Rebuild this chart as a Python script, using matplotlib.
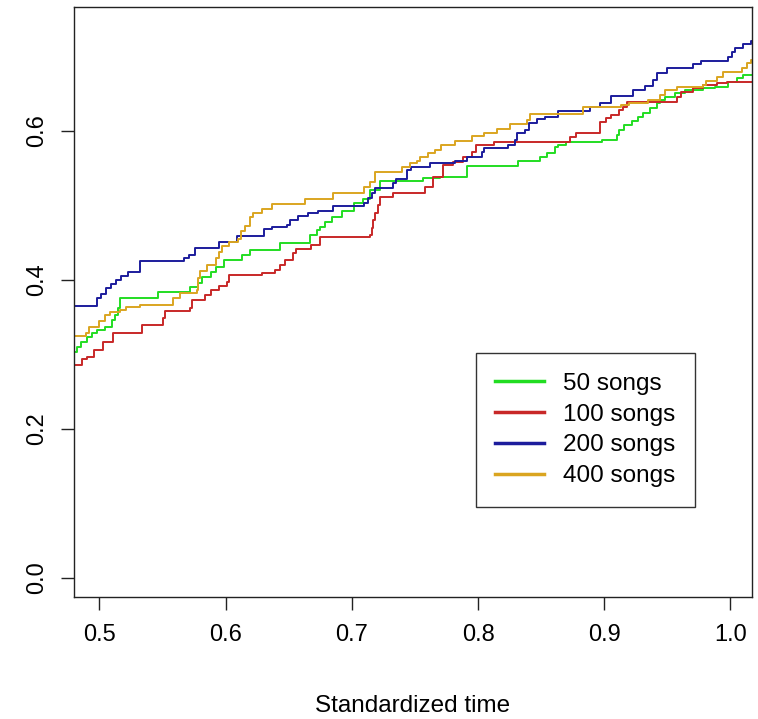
import matplotlib
matplotlib.use('Agg')
import matplotlib.pyplot as plt

plt.rcParams['font.family'] = ['Liberation Sans', 'DejaVu Sans']

# step curves
t_50 = [0.480, 0.482, 0.485, 0.490, 0.494, 0.498, 0.504, 0.510, 0.512, 0.515, 0.516, 0.546, 0.572, 0.578, 0.581,
        0.588, 0.592, 0.599, 0.613, 0.619, 0.643, 0.667, 0.672, 0.675, 0.679, 0.684, 0.692, 0.702, 0.709, 0.714,
        0.722, 0.756, 0.770, 0.791, 0.832, 0.849, 0.855, 0.861, 0.863, 0.870, 0.898, 0.910, 0.912, 0.916, 0.922,
        0.927, 0.931, 0.936, 0.942, 0.944, 0.948, 0.956, 0.964, 0.978, 0.988, 0.998, 1.005, 1.010, 1.02]
v_50 = [0.303, 0.309, 0.316, 0.323, 0.328, 0.332, 0.336, 0.346, 0.352, 0.362, 0.375, 0.383, 0.390, 0.395, 0.403,
        0.410, 0.417, 0.426, 0.433, 0.440, 0.449, 0.460, 0.466, 0.471, 0.477, 0.484, 0.492, 0.503, 0.508, 0.520,
        0.532, 0.536, 0.538, 0.552, 0.559, 0.565, 0.570, 0.578, 0.581, 0.585, 0.587, 0.594, 0.601, 0.608, 0.613,
        0.618, 0.624, 0.630, 0.637, 0.641, 0.645, 0.651, 0.655, 0.657, 0.659, 0.665, 0.671, 0.675, 0.675]

t_100 = [0.480, 0.486, 0.490, 0.496, 0.503, 0.511, 0.534, 0.550, 0.552, 0.572, 0.573, 0.584, 0.588, 0.595, 0.601,
         0.603, 0.629, 0.639, 0.643, 0.647, 0.653, 0.656, 0.668, 0.675, 0.714, 0.716, 0.717, 0.718, 0.721, 0.722,
         0.733, 0.758, 0.764, 0.772, 0.780, 0.788, 0.795, 0.798, 0.813, 0.873, 0.878, 0.897, 0.901, 0.905, 0.912,
         0.915, 0.918, 0.958, 0.961, 0.970, 0.978, 0.989, 0.997, 1.02]
v_100 = [0.285, 0.293, 0.296, 0.305, 0.316, 0.328, 0.339, 0.348, 0.358, 0.362, 0.372, 0.379, 0.386, 0.391, 0.397,
         0.406, 0.409, 0.413, 0.419, 0.426, 0.436, 0.441, 0.446, 0.457, 0.460, 0.469, 0.480, 0.489, 0.500, 0.511,
         0.516, 0.524, 0.538, 0.554, 0.558, 0.565, 0.571, 0.581, 0.585, 0.591, 0.597, 0.612, 0.617, 0.621, 0.628,
         0.632, 0.638, 0.645, 0.652, 0.657, 0.661, 0.664, 0.665, 0.665]

t_200 = [0.480, 0.498, 0.501, 0.505, 0.509, 0.513, 0.517, 0.523, 0.532, 0.567, 0.571, 0.576, 0.595, 0.609, 0.630,
         0.637, 0.649, 0.651, 0.657, 0.665, 0.673, 0.685, 0.710, 0.713, 0.716, 0.718, 0.733, 0.735, 0.744, 0.747,
         0.762, 0.782, 0.791, 0.803, 0.805, 0.824, 0.829, 0.831, 0.837, 0.840, 0.847, 0.853, 0.863, 0.889, 0.897,
         0.905, 0.923, 0.932, 0.939, 0.942, 0.950, 0.970, 0.977, 0.998, 1.001, 1.004, 1.010, 1.016, 1.02]
v_200 = [0.364, 0.375, 0.381, 0.389, 0.394, 0.399, 0.405, 0.410, 0.425, 0.429, 0.433, 0.442, 0.450, 0.458, 0.468,
         0.471, 0.473, 0.480, 0.485, 0.489, 0.492, 0.499, 0.503, 0.509, 0.516, 0.523, 0.530, 0.535, 0.547, 0.551,
         0.556, 0.559, 0.565, 0.571, 0.577, 0.581, 0.587, 0.597, 0.601, 0.610, 0.616, 0.618, 0.626, 0.632, 0.637,
         0.646, 0.655, 0.660, 0.668, 0.677, 0.684, 0.689, 0.694, 0.699, 0.706, 0.711, 0.716, 0.720, 0.720]

t_400 = [0.480, 0.489, 0.492, 0.500, 0.504, 0.508, 0.516, 0.521, 0.532, 0.558, 0.564, 0.577, 0.578, 0.580, 0.585,
         0.592, 0.595, 0.597, 0.603, 0.610, 0.612, 0.615, 0.619, 0.622, 0.629, 0.637, 0.663, 0.685, 0.710, 0.714,
         0.718, 0.740, 0.746, 0.752, 0.754, 0.760, 0.766, 0.771, 0.782, 0.795, 0.805, 0.815, 0.825, 0.839, 0.841,
         0.883, 0.913, 0.920, 0.935, 0.944, 0.948, 0.958, 0.978, 0.981, 0.989, 0.994, 1.009, 1.013, 1.016, 1.02]
v_400 = [0.324, 0.329, 0.336, 0.344, 0.352, 0.356, 0.359, 0.363, 0.366, 0.375, 0.382, 0.386, 0.402, 0.411, 0.419,
         0.429, 0.437, 0.445, 0.450, 0.454, 0.465, 0.472, 0.484, 0.489, 0.495, 0.501, 0.508, 0.516, 0.524, 0.531,
         0.544, 0.551, 0.556, 0.559, 0.565, 0.570, 0.574, 0.581, 0.586, 0.593, 0.597, 0.602, 0.609, 0.614, 0.622,
         0.632, 0.634, 0.637, 0.641, 0.648, 0.655, 0.659, 0.661, 0.667, 0.672, 0.679, 0.684, 0.691, 0.695, 0.695]

labels = ['50 songs', '100 songs', '200 songs', '400 songs']
colors = ['#22dd22', '#c82828', '#1c1c9c', '#daa520']
xticks = [0.5, 0.6, 0.7, 0.8, 0.9, 1.0]
yticks = [0.0, 0.2, 0.4, 0.6]

fig = plt.figure(figsize=(7.58, 7.19), dpi=100)
ax = fig.add_axes([0.0976, 0.1697, 0.8945, 0.8206])

series = [(t_50, v_50), (t_100, v_100), (t_200, v_200), (t_400, v_400)]
for (t, v), lab, col in zip(series, labels, colors):
    ax.step(t, v, where='post', color=col, lw=1.4, label=lab)

ax.set_xlim(0.4798, 1.0171)
ax.set_ylim(-0.026, 0.766)
ax.set_xticks(xticks)
ax.set_xticklabels(['%.1f' % x for x in xticks])
ax.set_yticks(yticks)
ax.set_yticklabels(['%.1f' % y for y in yticks], rotation=90, va='center')
ax.tick_params(direction='out', length=9.6, width=1, labelsize=17, color='#222222')
ax.tick_params(axis='x', pad=10)
ax.tick_params(axis='y', pad=9)
for s in ax.spines.values():
    s.set_linewidth(1)
    s.set_color('#222222')

ax.set_xlabel('Standardized time', fontsize=17.5, labelpad=35)

leg = ax.legend(loc='upper left', bbox_to_anchor=(0.5925, 0.413), borderaxespad=0,
                fontsize=17.5, frameon=True, fancybox=False, edgecolor='black',
                handlelength=2.0, handletextpad=0.8, labelspacing=0.36, borderpad=0.8)
leg.get_frame().set_linewidth(1)
for line in leg.get_lines():
    line.set_linewidth(2.5)

fig.savefig('out.png', dpi=100)
